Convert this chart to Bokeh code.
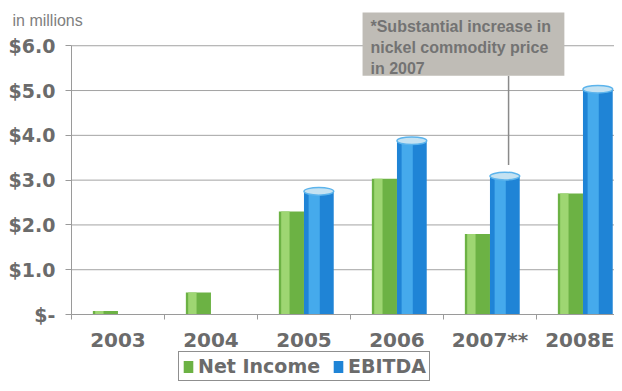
from bokeh.plotting import figure
from bokeh.models import (Range1d, FixedTicker, BoxAnnotation, Label, Legend, LegendItem,
                          ColumnDataSource)
from bokeh.embed import file_html
from bokeh.resources import INLINE

# ---- data ----
years = ["2003", "2004", "2005", "2006", "2007**", "2008E"]
net_income = [0.08, 0.49, 2.30, 3.03, 1.80, 2.70]
ebitda = [float("nan"), float("nan"), 2.75, 3.88, 3.09, 5.03]
y_ticks = [0, 1, 2, 3, 4, 5, 6]
y_labels = ["$-", "$1.0", "$2.0", "$3.0", "$4.0", "$5.0", "$6.0"]
note = "*Substantial increase in\nnickel commodity price\nin 2007"
unit_text = "in millions"

GRAY = "#6b6b6b"
centers = [i + 0.5 for i in range(len(years))]
n = len(years)

p = figure(width=614, height=383, output_backend="svg", toolbar_location=None,
           x_range=Range1d(-0.763, 5.839), y_range=Range1d(-1.54, 7.01),
           min_border=0, min_border_left=0, min_border_right=0,
           min_border_top=0, min_border_bottom=0)
p.outline_line_color = None
p.xgrid.grid_line_color = None
p.ygrid.grid_line_color = None

# horizontal grid lines starting at the value axis
p.segment(x0=[0] * len(y_ticks), x1=[n] * len(y_ticks), y0=y_ticks, y1=y_ticks,
          line_color="#a3a3a3", line_width=1)

src = ColumnDataSource(dict(
    c=centers, ni=net_income, eb=ebitda,
    g=[c - 0.135 for c in centers], gh=[c - 0.20 for c in centers],
    b=[c + 0.16 for c in centers], bh=[c + 0.11 for c in centers],
))

# Net income bars (green, with a light highlight stripe)
g_base = p.vbar(x="g", top="ni", width=0.27, source=src, fill_color="#6cb244", line_color=None)
p.vbar(x="gh", top="ni", width=0.09, source=src, fill_color="#9ed672", line_color=None)

# EBITDA bars (blue cylinders)
b_base = p.vbar(x="b", top="eb", width=0.32, source=src, fill_color="#1f84d6", line_color=None)
p.vbar(x="bh", top="eb", width=0.12, source=src, fill_color="#45aaec", line_color=None)
p.ellipse(x="b", y="eb", width=0.32, height=0.17, source=src,
          fill_color="#c4e2f2", line_color="#5cb4ec", line_width=1.5)

# axes (fixed at the data origin, so the frame covers the whole canvas)
p.yaxis.fixed_location = 0
p.yaxis.ticker = FixedTicker(ticks=y_ticks)
p.yaxis.major_label_overrides = {t: l for t, l in zip(y_ticks, y_labels)}
p.yaxis.bounds = (0, 6)
p.yaxis.axis_line_color = "#9a9a9a"
p.yaxis.major_tick_line_color = "#9a9a9a"
p.yaxis.major_tick_out = 6
p.yaxis.major_tick_in = 0
p.yaxis.minor_tick_line_color = None
p.yaxis.major_label_standoff = 10
p.yaxis.major_label_text_font = "DejaVu Sans"
p.yaxis.major_label_text_font_style = "bold"
p.yaxis.major_label_text_font_size = "19px"
p.yaxis.major_label_text_color = GRAY

p.xaxis.fixed_location = 0
p.xaxis.bounds = (0, n)
p.xaxis.ticker = FixedTicker(ticks=centers, minor_ticks=list(range(n + 1)))
p.xaxis.major_label_overrides = {c: y for c, y in zip(centers, years)}
p.xaxis.axis_line_color = "#9a9a9a"
p.xaxis.major_tick_line_color = None
p.xaxis.minor_tick_line_color = "#9a9a9a"
p.xaxis.minor_tick_out = 5
p.xaxis.minor_tick_in = 0
p.xaxis.major_label_standoff = 7
p.xaxis.major_label_text_font = "DejaVu Sans"
p.xaxis.major_label_text_font_style = "bold"
p.xaxis.major_label_text_font_size = "20px"
p.xaxis.major_label_text_color = GRAY

# "in millions"
p.add_layout(Label(x=-0.634, y=6.56, text=unit_text, text_font="Liberation Sans",
                   text_font_size="16px", text_color="#808080", text_baseline="middle"))

# annotation box
p.add_layout(BoxAnnotation(left=3.13, right=5.30, top=6.74, bottom=5.33,
                           fill_color="#bfbcb6", fill_alpha=1.0, line_color=None))
p.add_layout(Label(x=3.215, y=6.63, text=note, text_font="Liberation Sans",
                   text_font_style="bold", text_font_size="16px", text_color="#737373",
                   text_baseline="top", text_line_height=1.25))
p.segment(x0=[4.70], y0=[5.33], x1=[4.70], y1=[ebitda[4] + 0.25],
          line_color="#8a8a8a", line_width=1.5)

# legend
legend = Legend(items=[LegendItem(label="Net Income", renderers=[g_base]),
                       LegendItem(label="EBITDA", renderers=[b_base])],
                location=(178, 2), orientation="horizontal",
                border_line_color="#8f8f8f", border_line_width=1, border_line_alpha=1.0,
                background_fill_color="white", background_fill_alpha=1.0,
                padding=3, spacing=12, margin=0,
                label_text_font="DejaVu Sans", label_text_font_style="bold",
                label_text_font_size="19px", label_text_color=GRAY,
                glyph_width=12, glyph_height=15, label_standoff=4)
p.add_layout(legend, "center")

open("out.html", "w").write(file_html(p, INLINE))
